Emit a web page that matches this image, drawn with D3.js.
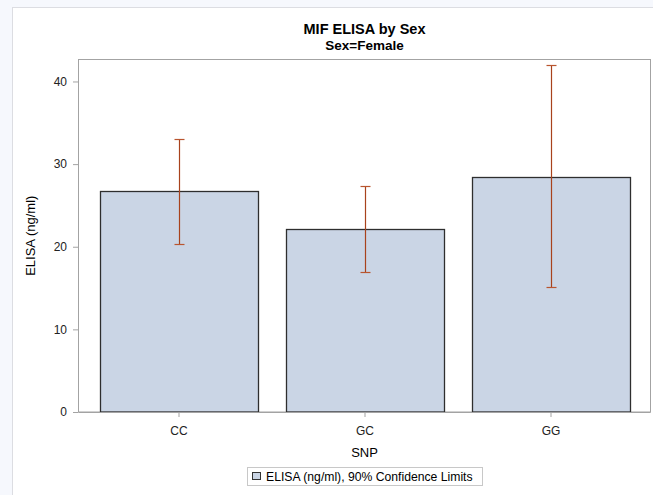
<!DOCTYPE html>
<html>
<head>
<meta charset="utf-8">
<script src="https://cdn.jsdelivr.net/npm/d3@7"></script>
<style>
  html, body { margin: 0; padding: 0; background: #f6f8fd; }
  svg { display: block; }
  text { font-family: "Liberation Sans", Arial, sans-serif; }
</style>
</head>
<body>
<svg id="chart" width="653" height="495"></svg>
<script>
const categories = ["CC", "GC", "GG"];
const means = [26.7, 22.2, 28.4];
const lowerCL = [20.3, 17.0, 15.1];
const upperCL = [33.0, 27.4, 42.05];
const yTicks = [0, 10, 20, 30, 40];
const titleText = "MIF ELISA by Sex";
const subtitleText = "Sex=Female";
const xLabel = "SNP";
const yLabel = "ELISA (ng/ml)";
const legendLabel = "ELISA (ng/ml), 90% Confidence Limits";

const data = categories.map((c, i) => ({ cat: c, mean: means[i], lo: lowerCL[i], hi: upperCL[i] }));

const svg = d3.select("#chart");
const W = 653, H = 495;

// outer frame
svg.append("rect").attr("x", 12.5).attr("y", 7.5).attr("width", W).attr("height", H)
  .attr("fill", "#ffffff").attr("stroke", "#dcdde2").attr("stroke-width", 1);

const plot = { left: 78.5, right: 650.5, top: 59.5, bottom: 412 };

const y = d3.scaleLinear().domain([0, 42.66]).range([plot.bottom, plot.top]);
const x = d3.scaleBand().domain(categories).range([86, 644]).paddingInner(0.15).paddingOuter(0.075);

// plot frame
svg.append("rect").attr("x", plot.left).attr("y", plot.top)
  .attr("width", plot.right - plot.left).attr("height", plot.bottom - plot.top)
  .attr("fill", "#ffffff").attr("stroke", "#a3a3a3").attr("stroke-width", 1);

// bars
svg.append("g").selectAll("rect").data(data).join("rect")
  .attr("x", d => Math.round(x(d.cat)) + 0.5)
  .attr("y", d => Math.round(y(d.mean)) + 0.5)
  .attr("width", Math.round(x.bandwidth()))
  .attr("height", d => Math.round(y(0)) - Math.round(y(d.mean)) - 0.5)
  .attr("fill", "#cad5e5")
  .attr("stroke", "#2e2e2e")
  .attr("stroke-width", 1.3);

// error bars
const eb = svg.append("g");
data.forEach(d => {
  const cx = Math.round(x(d.cat) + x.bandwidth() / 2) + 0.5;
  const yh = Math.round(y(d.hi)) + 0.5, yl = Math.round(y(d.lo)) + 0.5;
  eb.append("line").attr("x1", cx).attr("x2", cx).attr("y1", yh).attr("y2", yl)
    .attr("stroke", "#a8421c").attr("stroke-width", 1.2);
  eb.append("line").attr("x1", cx - 5).attr("x2", cx + 5).attr("y1", yh).attr("y2", yh)
    .attr("stroke", "#b9552f").attr("stroke-width", 1.2);
  eb.append("line").attr("x1", cx - 5).attr("x2", cx + 5).attr("y1", yl).attr("y2", yl)
    .attr("stroke", "#b9552f").attr("stroke-width", 1.2);
});

// y axis
const yAxis = d3.axisLeft(y).tickValues(yTicks).tickSize(5).tickPadding(6).tickFormat(d3.format("d"));
const gy = svg.append("g").attr("transform", `translate(${plot.left - 0.5},0)`).call(yAxis);
gy.select(".domain").remove();
gy.selectAll(".tick line").attr("stroke", "#a3a3a3");
gy.selectAll(".tick text").attr("fill", "#222").style("font-size", "12px").style("font-family", "Liberation Sans, Arial, sans-serif");

// x axis
const xAxis = d3.axisBottom(x).tickSize(5).tickPadding(9);
const gx = svg.append("g").attr("transform", `translate(0,${plot.bottom})`).call(xAxis);
gx.select(".domain").remove();
gx.selectAll(".tick line").attr("stroke", "#a3a3a3");
gx.selectAll(".tick text").attr("fill", "#222").style("font-size", "12px").style("font-family", "Liberation Sans, Arial, sans-serif");

// bottom axis line
svg.append("line").attr("x1", plot.left).attr("x2", plot.right).attr("y1", plot.bottom + 0.5).attr("y2", plot.bottom + 0.5)
  .attr("stroke", "#a3a3a3").attr("stroke-width", 1);

const cxPlot = (plot.left + plot.right) / 2;

// titles
svg.append("text").attr("x", cxPlot).attr("y", 34).attr("text-anchor", "middle")
  .style("font-size", "14.5px").style("font-weight", "bold").attr("fill", "#000").text(titleText);
svg.append("text").attr("x", cxPlot).attr("y", 50).attr("text-anchor", "middle")
  .style("font-size", "13.5px").style("font-weight", "bold").attr("fill", "#000").text(subtitleText);

// axis labels
svg.append("text").attr("x", cxPlot).attr("y", 457).attr("text-anchor", "middle")
  .style("font-size", "13px").attr("fill", "#000").text(xLabel);
svg.append("text").attr("transform", `translate(35,${(plot.top + plot.bottom) / 2}) rotate(-90)`)
  .attr("text-anchor", "middle").style("font-size", "13px").attr("fill", "#000").text(yLabel);

// legend
const lg = svg.append("g");
lg.append("rect").attr("x", 247.5).attr("y", 467.5).attr("width", 235).attr("height", 18)
  .attr("fill", "#ffffff").attr("stroke", "#c8c8c8");
lg.append("rect").attr("x", 252.5).attr("y", 472.5).attr("width", 8).attr("height", 7)
  .attr("fill", "#cad5e5").attr("stroke", "#333");
lg.append("text").attr("x", 266).attr("y", 480.5).style("font-size", "12.2px").attr("fill", "#000").text(legendLabel);
</script>
</body>
</html>
